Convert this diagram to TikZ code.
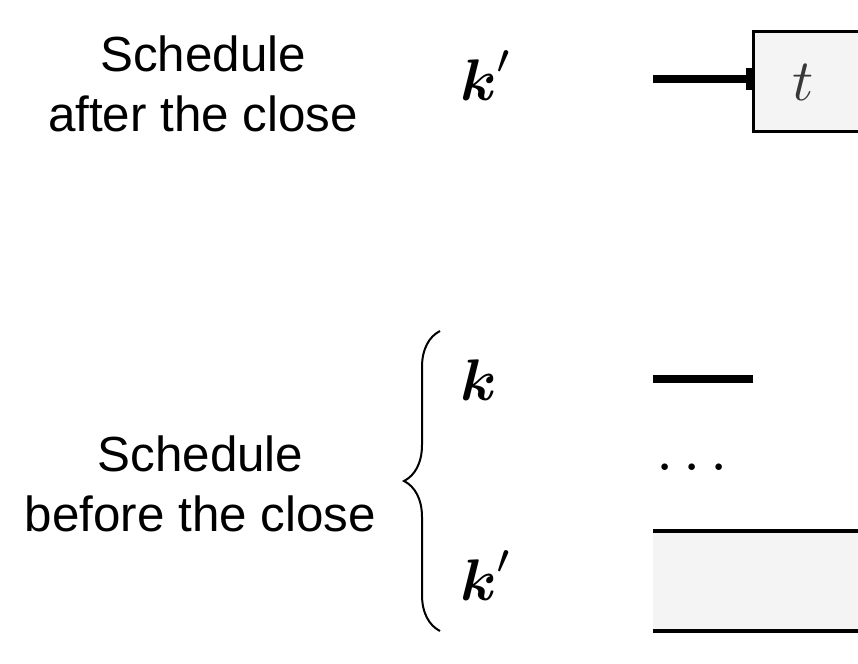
\documentclass[tikz,border=0pt]{standalone}
\usepackage{amsmath,amsbsy}
\usepackage{fontspec}
\setmainfont{Liberation Sans}
\usetikzlibrary{arrows.meta,decorations.pathreplacing}
\definecolor{boxgray}{HTML}{F4F4F4}
\definecolor{tgray}{HTML}{383838}
\newcommand{\mybigmath}[2][4.4]{\scalebox{#1}{$#2$}}
\begin{document}
\begin{tikzpicture}[x=0.75pt,y=-0.75pt,
  lbl/.style={font=\fontsize{37}{44.5}\selectfont, align=center, inner sep=0},
  mth/.style={inner sep=0, outer sep=0, anchor=base west},
  barline/.style={line width=6pt},
  edgeline/.style={line width=3pt},
  ]
\useasboundingbox (0,0) rectangle (858,664);
\clip (0,0) rectangle (858,664);

% labels
\node[lbl] (after) at (203,84) {Schedule\\after the close};
\node[lbl] (before) at (200.5,484) {Schedule\\before the close};

% machine names
\node[mth] (kp1) at (460,100) {\mybigmath{\boldsymbol{k}'}};
\node[mth] (k) at (460,400) {\mybigmath{\boldsymbol{k}}};
\node[mth] (kp2) at (460,600) {\mybigmath{\boldsymbol{k}'}};

% top: job t after the close
\node[draw, line width=2.25pt, fill=boxgray, minimum width=150pt, minimum height=75pt,
      outer sep=0, inner sep=0, anchor=north west] (tbox) at (753.5,31) {};
\node[mth, text=tgray] (t) at (792,100) {\mybigmath{t}};
\coordinate (s1) at (653,79);
\draw[barline, -{Rectangle[length=6pt,width=17pt]}] (s1) -- (s1 -| tbox.west);

% brace
\coordinate (b1) at (440,631);
\coordinate (b2) at (440,331);
\draw[line width=1.5pt, decorate, decoration={brace, amplitude=27pt}] (b1) -- (b2);

% machine k
\coordinate (k1) at (653,379);
\coordinate (k2) at (753,379);
\draw[barline] (k1) -- (k2);

% dots
\node[mth] (dots) at (656,470) {\mybigmath[4.65]{\ldots}};

% bottom block on k'
\node[fill=boxgray, minimum width=165pt, minimum height=75pt, outer sep=0, inner sep=0,
      anchor=north west] (blk) at (653,530.5) {};
\draw[edgeline] (blk.north west) -- (blk.north east);
\draw[edgeline] (blk.south west) -- (blk.south east);
\end{tikzpicture}
\end{document}
